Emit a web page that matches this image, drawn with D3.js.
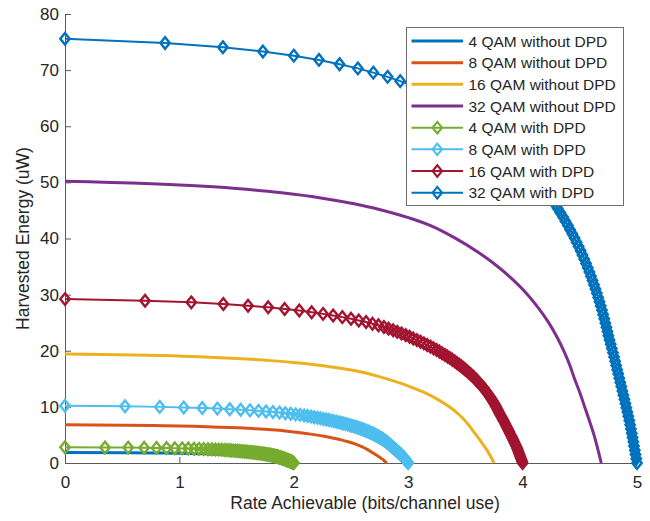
<!DOCTYPE html>
<html>
<head>
<meta charset="utf-8">
<script src="https://cdn.jsdelivr.net/npm/d3@7"></script>
<style>
  html, body { margin: 0; padding: 0; background: #ffffff; }
  svg { display: block; }
  text { font-family: "Liberation Sans", Arial, Helvetica, sans-serif; fill: #262626; }
</style>
</head>
<body>
<svg id="chart" width="650" height="521"></svg>
<script>
// ---- axis ticks ----
const rateTicks = [0, 1, 2, 3, 4, 5];
const energyTicks = [0, 10, 20, 30, 40, 50, 60, 70, 80];

// ---- series labels and colours (legend order) ----
const seriesNames = [
  "4 QAM without DPD", "8 QAM without DPD", "16 QAM without DPD", "32 QAM without DPD",
  "4 QAM with DPD", "8 QAM with DPD", "16 QAM with DPD", "32 QAM with DPD"
];
const seriesColors = ["#0072BD", "#D95319", "#EDB120", "#7E2F8E", "#77AC30", "#4DBEEE", "#A2142F", "#0072BD"];

// ---- without DPD: rate (bits/channel use) and harvested energy (uW) ----
const rate4NoDpd  = [0, 0.518, 0.75, 0.90, 1.011, 1.099, 1.204, 1.284, 1.361, 1.442, 1.510, 1.567, 1.615, 1.656, 1.690, 1.719, 1.743, 1.764, 1.781, 1.800, 1.817, 1.834, 1.850, 1.863, 1.875];
const energy4NoDpd = [1.87, 1.83, 1.80, 1.76, 1.72, 1.68, 1.63, 1.57, 1.50, 1.40, 1.31, 1.22, 1.12, 1.03, 0.94, 0.84, 0.75, 0.65, 0.56, 0.47, 0.37, 0.28, 0.19, 0.09, 0];

const rate8NoDpd  = [0, 0.776, 1.125, 1.35, 1.516, 1.648, 1.806, 1.927, 2.042, 2.163, 2.265, 2.350, 2.423, 2.483, 2.535, 2.578, 2.615, 2.646, 2.672, 2.700, 2.725, 2.751, 2.775, 2.794, 2.8125];
const energy8NoDpd = [6.80, 6.66, 6.53, 6.39, 6.26, 6.12, 5.92, 5.71, 5.44, 5.10, 4.76, 4.42, 4.08, 3.74, 3.40, 3.06, 2.72, 2.38, 2.04, 1.70, 1.36, 1.02, 0.68, 0.34, 0];

const rate16NoDpd  = [0, 1.035, 1.50, 1.80, 2.021, 2.198, 2.408, 2.569, 2.723, 2.884, 3.020, 3.134, 3.230, 3.311, 3.380, 3.438, 3.487, 3.528, 3.563, 3.600, 3.634, 3.668, 3.699, 3.726, 3.75];
const energy16NoDpd = [19.40, 19.01, 18.62, 18.24, 17.85, 17.46, 16.88, 16.30, 15.52, 14.55, 13.58, 12.61, 11.64, 10.67, 9.70, 8.73, 7.76, 6.79, 5.82, 4.85, 3.88, 2.91, 1.94, 0.97, 0];

const rate32NoDpd  = [0, 1.294, 1.875, 2.25, 2.527, 2.747, 3.009, 3.211, 3.403, 3.605, 3.774, 3.917, 4.038, 4.139, 4.225, 4.297, 4.358, 4.410, 4.453, 4.500, 4.542, 4.584, 4.624, 4.657, 4.6875];
const energy32NoDpd = [50.20, 49.20, 48.19, 47.19, 46.18, 45.18, 43.67, 42.17, 40.16, 37.65, 35.14, 32.63, 30.12, 27.61, 25.10, 22.59, 20.08, 17.57, 15.06, 12.55, 10.04, 7.53, 5.02, 2.51, 0];

// ---- with DPD: one sample per power-splitting step ----
const rate4Dpd = [
  0, 0.35, 0.552, 0.692, 0.80, 0.888, 0.96, 1.024, 1.078, 1.128,
  1.172, 1.212, 1.25, 1.284, 1.316, 1.344, 1.37, 1.394, 1.414, 1.434,
  1.452, 1.471, 1.489, 1.506, 1.522, 1.538, 1.554, 1.569, 1.583, 1.597,
  1.610, 1.624, 1.636, 1.648, 1.660, 1.671, 1.682, 1.693, 1.703, 1.713,
  1.723, 1.732, 1.741, 1.750, 1.758, 1.766, 1.774, 1.781, 1.789, 1.796,
  1.803, 1.809, 1.816, 1.822, 1.828, 1.833, 1.839, 1.844, 1.850, 1.855,
  1.860, 1.864, 1.869, 1.873, 1.877, 1.881, 1.885, 1.889, 1.893, 1.897,
  1.900, 1.904, 1.908, 1.912, 1.916, 1.920, 1.924, 1.927, 1.931, 1.934,
  1.938, 1.942, 1.945, 1.949, 1.952, 1.956, 1.959, 1.963, 1.966, 1.970,
  1.973, 1.976, 1.979, 1.981, 1.984, 1.987, 1.990, 1.992, 1.995, 1.997,
  2
];
const energy4Dpd = [
  2.80, 2.77, 2.74, 2.72, 2.69, 2.66, 2.63, 2.60, 2.58, 2.55,
  2.52, 2.49, 2.46, 2.44, 2.41, 2.38, 2.35, 2.32, 2.30, 2.27,
  2.24, 2.21, 2.18, 2.16, 2.13, 2.10, 2.07, 2.04, 2.02, 1.99,
  1.96, 1.93, 1.90, 1.88, 1.85, 1.82, 1.79, 1.76, 1.74, 1.71,
  1.68, 1.65, 1.62, 1.60, 1.57, 1.54, 1.51, 1.48, 1.46, 1.43,
  1.40, 1.37, 1.34, 1.32, 1.29, 1.26, 1.23, 1.20, 1.18, 1.15,
  1.12, 1.09, 1.06, 1.04, 1.01, 0.98, 0.95, 0.92, 0.90, 0.87,
  0.84, 0.81, 0.78, 0.76, 0.73, 0.70, 0.67, 0.64, 0.62, 0.59,
  0.56, 0.53, 0.50, 0.48, 0.45, 0.42, 0.39, 0.36, 0.34, 0.31,
  0.28, 0.25, 0.22, 0.20, 0.17, 0.14, 0.11, 0.08, 0.06, 0.03,
  0
];

const rate8Dpd = [
  0, 0.525, 0.828, 1.038, 1.20, 1.332, 1.44, 1.536, 1.617, 1.692,
  1.758, 1.818, 1.875, 1.926, 1.974, 2.016, 2.055, 2.091, 2.121, 2.151,
  2.178, 2.207, 2.233, 2.259, 2.283, 2.307, 2.331, 2.353, 2.375, 2.396,
  2.416, 2.435, 2.454, 2.472, 2.490, 2.507, 2.524, 2.540, 2.555, 2.570,
  2.584, 2.598, 2.612, 2.624, 2.637, 2.649, 2.661, 2.672, 2.683, 2.694,
  2.704, 2.714, 2.723, 2.733, 2.742, 2.750, 2.759, 2.767, 2.774, 2.782,
  2.789, 2.796, 2.803, 2.810, 2.816, 2.822, 2.828, 2.834, 2.840, 2.845,
  2.850, 2.856, 2.862, 2.868, 2.874, 2.880, 2.885, 2.891, 2.896, 2.902,
  2.907, 2.912, 2.918, 2.923, 2.929, 2.934, 2.939, 2.944, 2.949, 2.954,
  2.960, 2.964, 2.968, 2.972, 2.976, 2.981, 2.984, 2.988, 2.992, 2.996,
  3
];
const energy8Dpd = [
  10.20, 10.10, 10.00, 9.89, 9.79, 9.69, 9.59, 9.49, 9.38, 9.28,
  9.18, 9.08, 8.98, 8.87, 8.77, 8.67, 8.57, 8.47, 8.36, 8.26,
  8.16, 8.06, 7.96, 7.85, 7.75, 7.65, 7.55, 7.45, 7.34, 7.24,
  7.14, 7.04, 6.94, 6.83, 6.73, 6.63, 6.53, 6.43, 6.32, 6.22,
  6.12, 6.02, 5.92, 5.81, 5.71, 5.61, 5.51, 5.41, 5.30, 5.20,
  5.10, 5.00, 4.90, 4.79, 4.69, 4.59, 4.49, 4.39, 4.28, 4.18,
  4.08, 3.98, 3.88, 3.77, 3.67, 3.57, 3.47, 3.37, 3.26, 3.16,
  3.06, 2.96, 2.86, 2.75, 2.65, 2.55, 2.45, 2.35, 2.24, 2.14,
  2.04, 1.94, 1.84, 1.73, 1.63, 1.53, 1.43, 1.33, 1.22, 1.12,
  1.02, 0.92, 0.82, 0.71, 0.61, 0.51, 0.41, 0.31, 0.20, 0.10,
  0
];

const rate16Dpd = [
  0, 0.70, 1.104, 1.384, 1.60, 1.776, 1.92, 2.048, 2.156, 2.256,
  2.344, 2.424, 2.50, 2.568, 2.632, 2.688, 2.74, 2.788, 2.828, 2.868,
  2.904, 2.942, 2.978, 3.012, 3.044, 3.076, 3.108, 3.137, 3.166, 3.194,
  3.221, 3.247, 3.272, 3.296, 3.320, 3.343, 3.365, 3.386, 3.406, 3.426,
  3.446, 3.464, 3.482, 3.499, 3.516, 3.532, 3.548, 3.563, 3.578, 3.592,
  3.605, 3.618, 3.631, 3.644, 3.656, 3.667, 3.678, 3.689, 3.699, 3.709,
  3.719, 3.728, 3.738, 3.746, 3.755, 3.763, 3.771, 3.778, 3.786, 3.793,
  3.800, 3.808, 3.816, 3.824, 3.832, 3.840, 3.847, 3.854, 3.862, 3.869,
  3.876, 3.883, 3.890, 3.898, 3.905, 3.912, 3.919, 3.926, 3.932, 3.939,
  3.946, 3.952, 3.957, 3.963, 3.968, 3.974, 3.979, 3.984, 3.990, 3.995,
  4
];
const energy16Dpd = [
  29.20, 28.91, 28.62, 28.32, 28.03, 27.74, 27.45, 27.16, 26.86, 26.57,
  26.28, 25.99, 25.70, 25.40, 25.11, 24.82, 24.53, 24.24, 23.94, 23.65,
  23.36, 23.07, 22.78, 22.48, 22.19, 21.90, 21.61, 21.32, 21.02, 20.73,
  20.44, 20.15, 19.86, 19.56, 19.27, 18.98, 18.69, 18.40, 18.10, 17.81,
  17.52, 17.23, 16.94, 16.64, 16.35, 16.06, 15.77, 15.48, 15.18, 14.89,
  14.60, 14.31, 14.02, 13.72, 13.43, 13.14, 12.85, 12.56, 12.26, 11.97,
  11.68, 11.39, 11.10, 10.80, 10.51, 10.22, 9.93, 9.64, 9.34, 9.05,
  8.76, 8.47, 8.18, 7.88, 7.59, 7.30, 7.01, 6.72, 6.42, 6.13,
  5.84, 5.55, 5.26, 4.96, 4.67, 4.38, 4.09, 3.80, 3.50, 3.21,
  2.92, 2.63, 2.34, 2.04, 1.75, 1.46, 1.17, 0.88, 0.58, 0.29,
  0
];

const rate32Dpd = [
  0, 0.875, 1.38, 1.73, 2.00, 2.22, 2.40, 2.56, 2.695, 2.82,
  2.93, 3.03, 3.125, 3.21, 3.29, 3.36, 3.425, 3.485, 3.535, 3.585,
  3.63, 3.678, 3.722, 3.765, 3.806, 3.846, 3.885, 3.922, 3.958, 3.993,
  4.026, 4.059, 4.09, 4.121, 4.15, 4.179, 4.206, 4.233, 4.258, 4.283,
  4.307, 4.33, 4.353, 4.374, 4.395, 4.415, 4.435, 4.454, 4.472, 4.490,
  4.507, 4.523, 4.539, 4.555, 4.570, 4.584, 4.598, 4.611, 4.624, 4.637,
  4.649, 4.661, 4.672, 4.683, 4.694, 4.704, 4.714, 4.723, 4.733, 4.742,
  4.750, 4.760, 4.770, 4.780, 4.790, 4.800, 4.809, 4.818, 4.827, 4.836,
  4.845, 4.854, 4.863, 4.872, 4.881, 4.890, 4.899, 4.907, 4.916, 4.924,
  4.933, 4.940, 4.947, 4.954, 4.961, 4.968, 4.974, 4.981, 4.987, 4.994,
  5
];
const energy32Dpd = [
  75.60, 74.84, 74.09, 73.33, 72.58, 71.82, 71.06, 70.31, 69.55, 68.80,
  68.04, 67.28, 66.53, 65.77, 65.02, 64.26, 63.50, 62.75, 61.99, 61.24,
  60.48, 59.72, 58.97, 58.21, 57.46, 56.70, 55.94, 55.19, 54.43, 53.68,
  52.92, 52.16, 51.41, 50.65, 49.90, 49.14, 48.38, 47.63, 46.87, 46.12,
  45.36, 44.60, 43.85, 43.09, 42.34, 41.58, 40.82, 40.07, 39.31, 38.56,
  37.80, 37.04, 36.29, 35.53, 34.78, 34.02, 33.26, 32.51, 31.75, 31.00,
  30.24, 29.48, 28.73, 27.97, 27.22, 26.46, 25.70, 24.95, 24.19, 23.44,
  22.68, 21.92, 21.17, 20.41, 19.66, 18.90, 18.14, 17.39, 16.63, 15.88,
  15.12, 14.36, 13.61, 12.85, 12.10, 11.34, 10.58, 9.83, 9.07, 8.32,
  7.56, 6.80, 6.05, 5.29, 4.54, 3.78, 3.02, 2.27, 1.51, 0.76,
  0
];

const rateSeries = [rate4NoDpd, rate8NoDpd, rate16NoDpd, rate32NoDpd, rate4Dpd, rate8Dpd, rate16Dpd, rate32Dpd];
const energySeries = [energy4NoDpd, energy8NoDpd, energy16NoDpd, energy32NoDpd, energy4Dpd, energy8Dpd, energy16Dpd, energy32Dpd];

// ---- layout ----
const svg = d3.select("#chart");
const plot = { left: 65, right: 637, top: 14, bottom: 463 };

const x = d3.scaleLinear().domain([0, 5]).range([plot.left, plot.right]);
const y = d3.scaleLinear().domain([0, 80]).range([plot.bottom, plot.top]);

const series = seriesNames.map((name, i) => ({
  name,
  color: seriesColors[i],
  dpd: i >= 4,
  points: rateSeries[i].map((r, j) => [r, energySeries[i][j]])
}));

// ---- axes (left and bottom only, ticks pointing inward) ----
const axisColor = "#262626";
const xAxis = d3.axisBottom(x).tickValues(rateTicks).tickFormat(d3.format("d"))
  .tickSizeInner(-6).tickSizeOuter(0).tickPadding(13);
const yAxis = d3.axisLeft(y).tickValues(energyTicks).tickFormat(d3.format("d"))
  .tickSizeInner(-6).tickSizeOuter(0).tickPadding(6);

const gx = svg.append("g").attr("transform", `translate(0,${plot.bottom})`).call(xAxis);
const gy = svg.append("g").attr("transform", `translate(${plot.left},0)`).call(yAxis);
[gx, gy].forEach(g => {
  g.selectAll(".domain").attr("stroke", "#5a5a5a").attr("stroke-width", 1);
  g.selectAll(".tick line").attr("stroke", "#5a5a5a").attr("stroke-width", 1);
  g.selectAll(".tick text").attr("fill", axisColor)
    .style("font-family", "'Liberation Sans', Arial, sans-serif").style("font-size", "17px");
});

svg.append("text")
  .attr("x", 365).attr("y", 509)
  .attr("text-anchor", "middle").style("font-size", "17.5px")
  .text("Rate Achievable (bits/channel use)");

svg.append("text")
  .attr("transform", `translate(29,${(plot.top + plot.bottom) / 2}) rotate(-90)`)
  .attr("text-anchor", "middle").style("font-size", "17.5px")
  .text("Harvested Energy (uW)");

// ---- curves ----
const smoothLine = d3.line().x(d => x(d[0])).y(d => y(d[1])).curve(d3.curveMonotoneX);
const straightLine = d3.line().x(d => x(d[0])).y(d => y(d[1]));
const diamond = "M0,-5.8L4.7,0L0,5.8L-4.7,0Z";

const curves = svg.append("g");
series.forEach(s => {
  const g = curves.append("g");
  g.append("path")
    .attr("d", s.dpd ? straightLine(s.points) : smoothLine(s.points))
    .attr("fill", "none")
    .attr("stroke", s.color)
    .attr("stroke-width", s.dpd ? 2 : 3)
    .attr("stroke-linejoin", "round");
  if (s.dpd) {
    g.selectAll("path.marker").data(s.points).join("path")
      .attr("class", "marker")
      .attr("d", diamond)
      .attr("transform", d => `translate(${x(d[0])},${y(d[1])})`)
      .attr("fill", "none")
      .attr("stroke", s.color)
      .attr("stroke-width", 2.4);
  }
});

// ---- legend ----
const legend = { x: 406, y: 27, w: 217, h: 178, rowTop: 41, rowStep: 21.67 };
const lg = svg.append("g");
lg.append("rect")
  .attr("x", legend.x + 0.5).attr("y", legend.y + 0.5)
  .attr("width", legend.w).attr("height", legend.h)
  .attr("fill", "#ffffff").attr("stroke", "#6e6e6e").attr("stroke-width", 1);

series.forEach((s, i) => {
  const cy = legend.rowTop + i * legend.rowStep;
  lg.append("line")
    .attr("x1", 411.5).attr("x2", 463).attr("y1", cy).attr("y2", cy)
    .attr("stroke", s.color).attr("stroke-width", s.dpd ? 2 : 3);
  if (s.dpd) {
    lg.append("path").attr("d", diamond)
      .attr("transform", `translate(437.3,${cy})`)
      .attr("fill", "none").attr("stroke", s.color).attr("stroke-width", 2.1);
  }
  lg.append("text")
    .attr("x", 468.5).attr("y", cy + 5.5)
    .style("font-size", "15.5px")
    .text(s.name);
});
</script>
</body>
</html>
